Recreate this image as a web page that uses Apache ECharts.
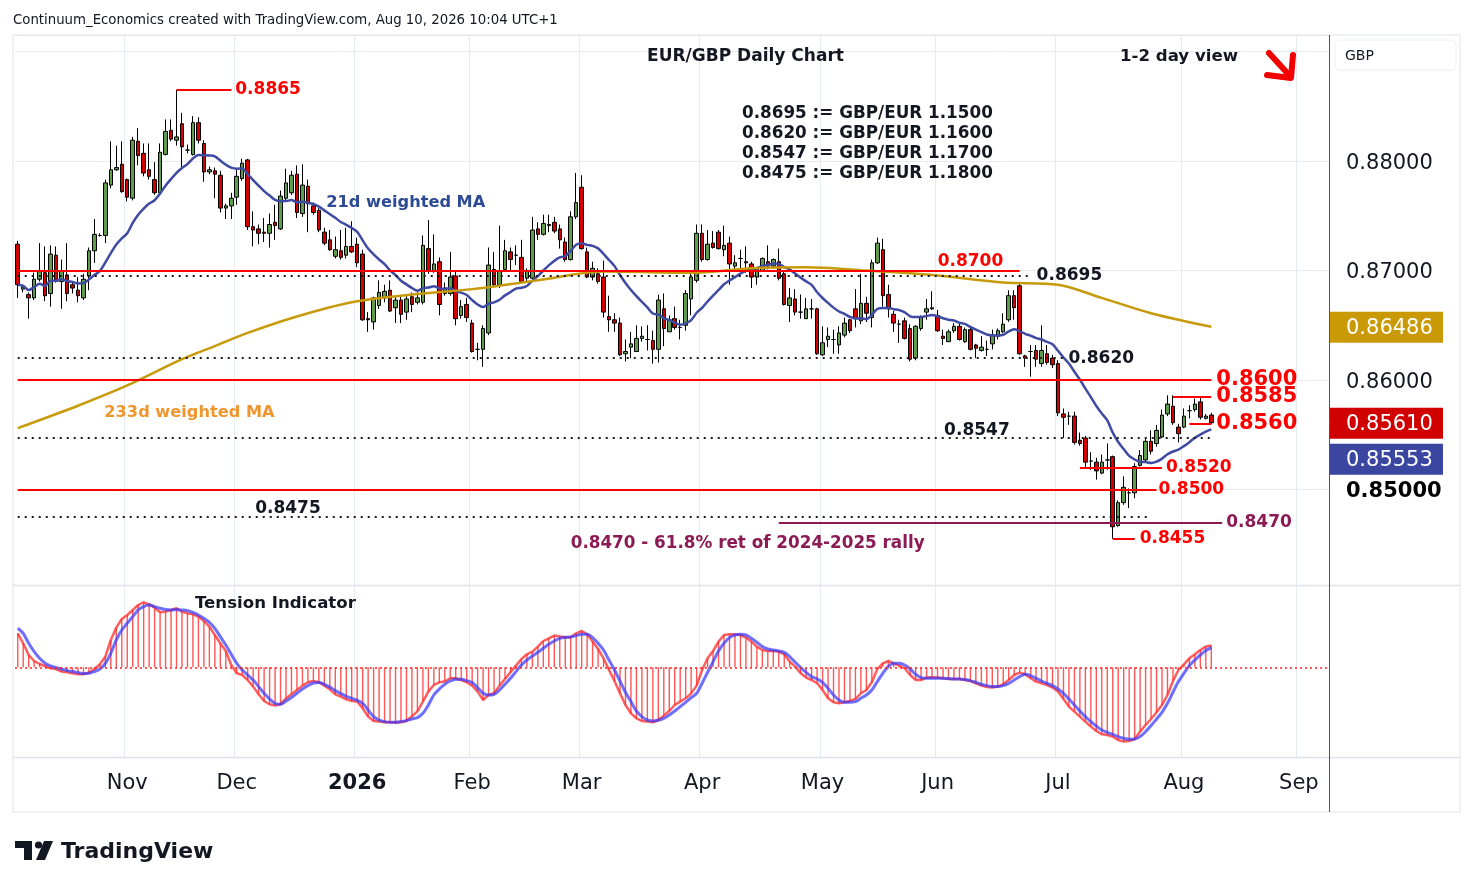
<!DOCTYPE html>
<html><head><meta charset="utf-8">
<script src="https://cdn.jsdelivr.net/npm/echarts/dist/echarts.min.js"></script>
<style>html,body{margin:0;padding:0;background:#fff;} #c{width:1474px;height:887px;}</style>
</head><body><div id="c"></div>
<script>
// ---- candles (Oct 6 2025 .. Aug 10 2026, daily) ----
const open = [0.8724,0.8683,0.8678,0.8675,0.8692,0.8698,0.8679,0.8714,0.8690,0.8696,
0.8687,0.8682,0.8675,0.8695,0.8718,0.8732,0.8732,0.8778,0.8792,0.8797,
0.8783,0.8766,0.8818,0.8807,0.8792,0.8783,0.8771,0.8806,0.8828,0.8819,
0.8834,0.8810,0.8806,0.8835,0.8816,0.8790,0.8791,0.8787,0.8757,0.8759,
0.8767,0.8784,0.8801,0.8740,0.8738,0.8735,0.8734,0.8744,0.8738,0.8766,
0.8771,0.8788,0.8752,0.8777,0.8759,0.8755,0.8735,0.8728,0.8713,0.8718,
0.8714,0.8722,0.8724,0.8715,0.8656,0.8653,0.8668,0.8675,0.8682,0.8666,
0.8673,0.8662,0.8676,0.8671,0.8671,0.8720,0.8699,0.8708,0.8679,0.8679,
0.8695,0.8659,0.8669,0.8652,0.8628,0.8628,0.8643,0.8701,0.8687,0.8701,
0.8717,0.8714,0.8712,0.8693,0.8693,0.8738,0.8733,0.8742,0.8744,0.8738,
0.8726,0.8710,0.8749,0.8776,0.8717,0.8694,0.8697,0.8694,0.8658,0.8655,
0.8652,0.8624,0.8630,0.8626,0.8638,0.8637,0.8636,0.8628,0.8665,0.8644,
0.8656,0.8648,0.8650,0.8674,0.8691,0.8734,0.8710,0.8725,0.8735,0.8719,
0.8725,0.8704,0.8711,0.8708,0.8706,0.8694,0.8700,0.8708,0.8704,0.8708,
0.8697,0.8668,0.8674,0.8662,0.8656,0.8665,0.8665,0.8623,0.8637,0.8637,
0.8632,0.8641,0.8655,0.8665,0.8654,0.8670,0.8657,0.8707,0.8719,0.8678,
0.8660,0.8651,0.8654,0.8647,0.8620,0.8647,0.8662,0.8665,0.8659,0.8640,
0.8635,0.8645,0.8649,0.8635,0.8646,0.8632,0.8627,0.8628,0.8633,0.8640,
0.8644,0.8655,0.8677,0.8686,0.8622,0.8626,0.8627,0.8615,0.8624,0.8620,
0.8615,0.8569,0.8567,0.8567,0.8545,0.8547,0.8526,0.8525,0.8515,0.8527,
0.8530,0.8467,0.8488,0.8497,0.8497,0.8522,0.8527,0.8544,0.8542,0.8548,
0.8569,0.8576,0.8557,0.8557,0.8572,0.8573,0.8580,0.8565,0.8568];
const close = [0.8687,0.8685,0.8675,0.8692,0.8699,0.8677,0.8715,0.8690,0.8700,0.8679,
0.8684,0.8677,0.8692,0.8718,0.8733,0.8732,0.8780,0.8792,0.8794,0.8772,
0.8767,0.8819,0.8805,0.8789,0.8786,0.8771,0.8808,0.8827,0.8820,0.8822,
0.8813,0.8810,0.8835,0.8819,0.8790,0.8792,0.8788,0.8757,0.8759,0.8766,
0.8786,0.8798,0.8740,0.8737,0.8734,0.8734,0.8742,0.8741,0.8768,0.8780,
0.8787,0.8753,0.8778,0.8761,0.8753,0.8737,0.8725,0.8719,0.8719,0.8712,
0.8722,0.8717,0.8707,0.8655,0.8655,0.8675,0.8680,0.8681,0.8663,0.8673,
0.8660,0.8674,0.8669,0.8675,0.8723,0.8700,0.8706,0.8669,0.8684,0.8694,
0.8656,0.8667,0.8657,0.8626,0.8628,0.8647,0.8705,0.8687,0.8700,0.8718,
0.8710,0.8714,0.8690,0.8700,0.8737,0.8733,0.8743,0.8741,0.8736,0.8728,
0.8710,0.8749,0.8762,0.8720,0.8694,0.8702,0.8690,0.8662,0.8655,0.8652,
0.8623,0.8626,0.8633,0.8638,0.8640,0.8637,0.8628,0.8673,0.8647,0.8655,
0.8648,0.8648,0.8679,0.8694,0.8734,0.8710,0.8724,0.8721,0.8720,0.8723,
0.8706,0.8707,0.8711,0.8707,0.8694,0.8702,0.8711,0.8704,0.8710,0.8693,
0.8669,0.8675,0.8662,0.8662,0.8665,0.8665,0.8624,0.8634,0.8640,0.8637,
0.8643,0.8652,0.8645,0.8656,0.8670,0.8661,0.8707,0.8725,0.8677,0.8665,
0.8652,0.8651,0.8638,0.8619,0.8649,0.8657,0.8665,0.8666,0.8645,0.8638,
0.8644,0.8649,0.8637,0.8646,0.8628,0.8629,0.8630,0.8628,0.8641,0.8645,
0.8651,0.8677,0.8666,0.8624,0.8620,0.8626,0.8619,0.8627,0.8616,0.8614,
0.8570,0.8566,0.8567,0.8543,0.8542,0.8525,0.8526,0.8517,0.8525,0.8527,
0.8466,0.8488,0.8502,0.8497,0.8521,0.8531,0.8544,0.8535,0.8554,0.8568,
0.8578,0.8561,0.8551,0.8567,0.8572,0.8578,0.8566,0.8567,0.8561];
const high = [0.8727,0.8687,0.8680,0.8698,0.8725,0.8722,0.8723,0.8722,0.8710,0.8725,
0.8689,0.8694,0.8697,0.8721,0.8747,0.8734,0.8783,0.8818,0.8814,0.8818,
0.8784,0.8822,0.8830,0.8816,0.8816,0.8799,0.8816,0.8838,0.8838,0.8865,
0.8844,0.8815,0.8841,0.8840,0.8819,0.8795,0.8794,0.8791,0.8761,0.8771,
0.8793,0.8802,0.8802,0.8754,0.8742,0.8748,0.8752,0.8760,0.8773,0.8793,
0.8791,0.8796,0.8797,0.8783,0.8762,0.8757,0.8739,0.8737,0.8731,0.8737,
0.8739,0.8745,0.8730,0.8719,0.8662,0.8676,0.8691,0.8687,0.8691,0.8677,
0.8677,0.8678,0.8680,0.8680,0.8732,0.8746,0.8733,0.8712,0.8689,0.8717,
0.8700,0.8673,0.8675,0.8655,0.8634,0.8650,0.8721,0.8717,0.8741,0.8728,
0.8721,0.8723,0.8728,0.8702,0.8749,0.8744,0.8751,0.8751,0.8749,0.8742,
0.8730,0.8754,0.8789,0.8787,0.8721,0.8708,0.8702,0.8709,0.8677,0.8661,
0.8657,0.8637,0.8644,0.8650,0.8649,0.8650,0.8645,0.8678,0.8679,0.8659,
0.8667,0.8655,0.8682,0.8699,0.8742,0.8742,0.8737,0.8736,0.8737,0.8741,
0.8731,0.8714,0.8719,0.8722,0.8708,0.8703,0.8712,0.8723,0.8711,0.8720,
0.8700,0.8684,0.8683,0.8678,0.8675,0.8674,0.8666,0.8649,0.8648,0.8646,
0.8649,0.8657,0.8656,0.8683,0.8697,0.8676,0.8710,0.8730,0.8729,0.8687,
0.8663,0.8655,0.8657,0.8651,0.8650,0.8659,0.8674,0.8681,0.8664,0.8646,
0.8646,0.8652,0.8653,0.8648,0.8648,0.8633,0.8640,0.8636,0.8646,0.8647,
0.8661,0.8682,0.8682,0.8688,0.8623,0.8632,0.8632,0.8650,0.8632,0.8623,
0.8618,0.8574,0.8571,0.8571,0.8552,0.8549,0.8534,0.8529,0.8532,0.8542,
0.8531,0.8490,0.8512,0.8501,0.8524,0.8536,0.8547,0.8554,0.8559,0.8573,
0.8586,0.8586,0.8560,0.8574,0.8577,0.8583,0.8584,0.8569,0.8570];
const low = [0.8675,0.8680,0.8656,0.8673,0.8690,0.8672,0.8667,0.8689,0.8665,0.8672,
0.8679,0.8671,0.8673,0.8682,0.8707,0.8731,0.8725,0.8775,0.8791,0.8771,
0.8763,0.8764,0.8796,0.8786,0.8783,0.8769,0.8769,0.8805,0.8818,0.8814,
0.8793,0.8807,0.8805,0.8816,0.8781,0.8788,0.8766,0.8753,0.8747,0.8747,
0.8760,0.8782,0.8737,0.8722,0.8724,0.8726,0.8721,0.8728,0.8737,0.8764,
0.8769,0.8748,0.8749,0.8735,0.8751,0.8735,0.8723,0.8718,0.8711,0.8710,
0.8711,0.8716,0.8703,0.8654,0.8644,0.8646,0.8665,0.8671,0.8662,0.8652,
0.8652,0.8655,0.8662,0.8669,0.8669,0.8697,0.8698,0.8659,0.8677,0.8677,
0.8650,0.8656,0.8653,0.8625,0.8618,0.8612,0.8641,0.8685,0.8684,0.8699,
0.8700,0.8705,0.8689,0.8689,0.8691,0.8728,0.8732,0.8735,0.8734,0.8720,
0.8708,0.8709,0.8747,0.8719,0.8693,0.8691,0.8688,0.8657,0.8644,0.8644,
0.8622,0.8617,0.8620,0.8626,0.8635,0.8627,0.8615,0.8616,0.8631,0.8644,
0.8646,0.8637,0.8645,0.8659,0.8689,0.8708,0.8709,0.8720,0.8719,0.8713,
0.8687,0.8699,0.8702,0.8698,0.8684,0.8687,0.8699,0.8701,0.8702,0.8691,
0.8668,0.8653,0.8659,0.8656,0.8656,0.8656,0.8623,0.8622,0.8630,0.8624,
0.8624,0.8639,0.8643,0.8648,0.8651,0.8653,0.8648,0.8706,0.8667,0.8657,
0.8644,0.8634,0.8637,0.8617,0.8618,0.8645,0.8655,0.8664,0.8644,0.8632,
0.8635,0.8643,0.8636,0.8634,0.8627,0.8620,0.8626,0.8622,0.8628,0.8637,
0.8643,0.8653,0.8655,0.8623,0.8612,0.8603,0.8612,0.8612,0.8614,0.8611,
0.8567,0.8547,0.8559,0.8541,0.8540,0.8519,0.8518,0.8509,0.8514,0.8518,
0.8455,0.8466,0.8486,0.8483,0.8492,0.8521,0.8525,0.8532,0.8539,0.8547,
0.8567,0.8559,0.8543,0.8556,0.8565,0.8571,0.8564,0.8564,0.8560];

// ---- 233d weighted MA readings (bar number -> value) ----
const ma233Bars = [1,12,21,31,37,43,52,62,73,84,96,108,125,135,145,156,168,181,191,199,208,219];
const ma233Vals = [0.8556,0.85765,0.8595,0.8619,0.8631,0.8643,0.8658,0.8671,0.8678,0.8683,0.8691,0.8699,0.8698,0.8702,0.8703,0.8700,0.8696,0.8689,0.8687,0.8675,0.8661,0.86486];
// last 21d weighted MA value shown on the price scale
const ma21LastRead = 0.85553;

// ---- Tension indicator (arbitrary units) ----
const tension = [34,24,12.3,6.3,3.3,1.3,-1,-1.7,-4.3,-5,
-6,-7,-7,-5.3,-1.7,3,10.7,27.3,39.7,48.3,
52.3,57.3,62.3,65,63,59.7,55,55.7,57.3,59,
55.7,54,53,50.7,46.3,40.7,32.3,24,16.3,2.3,
-6,-7.7,-12.7,-19.3,-27,-33.7,-37,-38.3,-37,-31,
-27,-22.7,-18.3,-15,-13.7,-15,-18.3,-22,-27,-29.3,
-32,-33.7,-34.3,-41,-49.3,-53.7,-54.3,-55,-55,-55.3,
-55,-53.7,-49,-44,-34.3,-24.3,-17.7,-15,-14.3,-11,
-11,-12.7,-15,-18.3,-24.3,-32.7,-27.7,-26,-18.3,-11.7,
-5,1.7,8.3,13,15.7,20.7,26.3,29,31.7,30.7,
30,30,34,36.3,33,25.7,18.3,9,-2.7,-13.7,
-26,-37.7,-46,-51,-53.7,-54.3,-55,-52.7,-48.3,-43.7,
-37.7,-34.3,-31,-26,-18.3,-2.7,9,16.3,25.7,32.3,
33,33,32.3,29.7,25.7,20.7,17.3,16.3,16.3,15.7,
13,5.7,0.7,-6,-10.3,-12.7,-16,-22.7,-31,-35,
-36,-35,-33.7,-31.7,-26,-22.7,-15,-1.7,4,6.3,
4,1.7,-1,-7.7,-12.7,-12.7,-10.3,-10,-10.3,-11,
-11.7,-11.7,-11.7,-12.7,-13.7,-16,-18.3,-19.7,-20.3,-19.3,
-17,-12.7,-7.7,-5.3,-7,-11,-14.3,-16,-17.7,-20.3,
-24.3,-31.7,-39.3,-44.3,-49.3,-54.3,-59.3,-63.7,-67,-67.7,
-69.3,-72.7,-74.3,-73.7,-71.7,-64.3,-57.7,-51.7,-45,-37.7,
-27.7,-13.7,-2.7,3,9,13,17.3,20.7,21.7];
const signal = [39,34,24,15.7,9,4,1.3,-0.3,-1.7,-3.3,
-4.3,-5.3,-6.3,-6,-4.3,-1.7,4,14,27.3,37.3,
44,50.7,57.3,60.7,62.3,60.7,59,57.7,57.3,57.7,
57.3,56.7,55,52.3,49,45,39,30.7,22.3,13,
4,-2.7,-7.7,-12.7,-19.3,-26,-31.7,-36,-37,-33.7,
-30.3,-26,-21.7,-18.3,-15.7,-15.3,-17,-19.7,-23.3,-26.3,
-29,-31,-33,-36,-42.7,-49.3,-52.7,-54.3,-55,-55,
-54.3,-53.3,-51.7,-50.3,-46,-37.7,-27.7,-21.7,-17,-13.7,
-12,-12,-13.3,-15.3,-20.3,-26,-27.7,-27,-22.7,-17,
-11,-4.3,2.3,7.3,11.3,15,19,23,26.3,29,
30,30.3,31.7,33,33,29.7,24,17.3,7.3,-2.7,
-13.7,-25,-34.3,-43.7,-49.3,-52.7,-53.7,-53,-51,-47.7,
-43.7,-39.3,-35,-30.3,-26,-16,-5,5.7,16.3,24,
29.7,32.3,33,32.3,29,25,20.7,18.3,17.3,16.3,
15,10.7,5,-0.3,-5,-9.3,-11.7,-15,-21,-27.7,
-32.7,-35,-35,-34.3,-31,-27.7,-22.7,-14.3,-6,0.7,
4,4,2.3,-1.7,-7,-10.3,-11,-11,-11,-11,
-11.3,-11.7,-11.7,-12.3,-13.3,-15,-17,-18.3,-19.3,-19.3,
-18.3,-16,-12.7,-9.3,-7,-8.3,-11,-13.7,-16,-18.3,
-21.7,-26,-31.7,-37.7,-43.7,-49.3,-54.3,-58.7,-62.7,-65,
-67,-69.3,-71,-72,-71.7,-69.3,-64.3,-58.3,-51.7,-45,
-36,-25,-14.3,-6,1.7,7.3,12.3,16.7,19.7];

// ---- price axis ticks / labels ----
const priceTicks = [0.85, 0.86, 0.87, 0.88];
const monthNames = ['Jan','Feb','Mar','Apr','May','Jun','Jul','Aug','Sep','Oct','Nov','Dec'];

// category axis: trading weekdays (Dec 25 and Jan 1 closed), incl. future space
const dates = [];
(function(){
  const d = new Date(Date.UTC(2025,9,6)), end = new Date(Date.UTC(2026,8,8));
  const skip = ['2025-12-25','2026-01-01'];
  while (d <= end) {
    const wd = d.getUTCDay(), s = d.toISOString().slice(0,10);
    if (wd !== 0 && wd !== 6 && skip.indexOf(s) < 0) dates.push(s);
    d.setUTCDate(d.getUTCDate()+1);
  }
})();
const monthStart = {};
for (let i = 1; i < dates.length; i++) if (dates[i].slice(5,7) !== dates[i-1].slice(5,7)) monthStart[i] = true;

function wma(vals, n){
  return vals.map((_, t) => { let s = 0, w = 0;
    for (let k = 0; k < n && t - k >= 0; k++) { const wt = n - k; s += wt * vals[t-k]; w += wt; }
    return +(s / w).toFixed(5); });
}
const ma21 = wma(close, 21);
const ma233 = dates.map(() => null);
ma233Bars.forEach((b, j) => { ma233[b-1] = ma233Vals[j]; });

const candleData = open.map((o, i) => [o, close[i], low[i], high[i]]);

const FONT = 'DejaVu Sans';
const RED = '#ff0000', PURPLE = '#8b1a55';
const dotted = {color:'#1a1a1a', width:2, type:[2,5]};
const solidRed = {color:RED, width:2, type:'solid'};
function lvl(v, i1, i2, style, text, lab){
  return [{coord:[i1, v], lineStyle:style, label: Object.assign({show: !!text, formatter: text || '', position:'end', distance:5,
            padding:[4,0,0,0],
            fontFamily:FONT, fontWeight:'bold', fontSize:17, color: style.color === '#1a1a1a' ? '#131722' : style.color}, lab || {})},
          {coord:[i2, v]}];
}
function txt(i, v, text, color, align, off, size){
  return {coord:[i, v], symbol:'circle', symbolSize:0.01, itemStyle:{color:'transparent'},
    label:{show:true, formatter:text, position:'inside', align:align, verticalAlign:'middle', offset:off,
      color:color, fontFamily:FONT, fontWeight:'bold', fontSize:size || 17}};
}

const splitInterval = (idx) => !!monthStart[idx];

const option = {
  animation:false,
  backgroundColor:'#ffffff',
  grid:[{left:15, width:1314, top:35, height:550}, {left:15, width:1314, top:586, height:171}],
  xAxis:[
    {type:'category', gridIndex:0, data:dates, boundaryGap:true, axisLine:{show:false}, axisTick:{show:false}, axisLabel:{show:false},
     splitLine:{show:true, interval:splitInterval, lineStyle:{color:'#e6eaf1', width:1}}},
    {type:'category', gridIndex:1, data:dates, boundaryGap:true, axisLine:{show:false}, axisTick:{show:false},
     splitLine:{show:true, interval:splitInterval, lineStyle:{color:'#e6eaf1', width:1}},
     axisLabel:{show:true, interval:splitInterval, margin:16, fontFamily:FONT, fontSize:21, color:'#131722',
       formatter:(v) => { const m = +v.slice(5,7); return m === 1 ? '{b|' + v.slice(0,4) + '}' : monthNames[m-1]; },
       rich:{b:{fontFamily:FONT, fontSize:21, fontWeight:'bold', color:'#131722'}}}}
  ],
  yAxis:[
    {type:'value', gridIndex:0, position:'right', min:0.841279, max:0.891507, splitNumber:5,
     axisLine:{show:false}, axisTick:{show:false},
     splitLine:{show:true, lineStyle:{color:'#e6eaf1', width:1}},
     axisLabel:{show:true, margin:17, padding:[5,0,0,0], showMinLabel:false, showMaxLabel:false, fontFamily:FONT, fontSize:21, color:'#131722',
       formatter:(v) => { if (v > 0.885) return ''; const s = v.toFixed(5); return Math.abs(v - priceTicks[0]) < 1e-6 ? '{b|' + s + '}' : s; },
       rich:{b:{fontFamily:FONT, fontSize:21, fontWeight:'bold', color:'#000'}}}},
    {type:'value', gridIndex:1, min:-89.7, max:81.3, show:false, splitLine:{show:false}}
  ],
  series:[
    {type:'candlestick', name:'EURGBP', xAxisIndex:0, yAxisIndex:0, data:candleData, barWidth:4,
     itemStyle:{color:'#5e9e4b', color0:'#d40000', borderColor:'#000', borderColor0:'#000', borderWidth:1},
     markLine:{silent:true, symbol:['none','none'], animation:false, data:[
       lvl(0.8865, 29, 39, solidRed, '0.8865', {distance:4}),
       lvl(0.8700, 0, 183, solidRed, ''),
       lvl(0.8695, 0, 185, dotted, '0.8695', {distance:6}),
       lvl(0.8620, 0, 191, dotted, '0.8620', {distance:5}),
       lvl(0.8600, 0, 218, solidRed, '0.8600', {fontSize:21, distance:5}),
       lvl(0.8585, 211, 218, solidRed, '0.8585', {fontSize:21, distance:5}),
       lvl(0.8560, 214, 218, solidRed, '0.8560', {fontSize:21, distance:5}),
       lvl(0.8547, 0, 218, dotted, ''),
       lvl(0.8520, 194, 209, solidRed, '0.8520', {distance:4}),
       lvl(0.8500, 0, 208, solidRed, '0.8500', {distance:2}),
       lvl(0.8475, 0, 207, dotted, ''),
       lvl(0.8470, 139, 220, {color:PURPLE, width:2, type:'solid'}, '0.8470', {distance:4}),
       lvl(0.8455, 200, 204, solidRed, '0.8455', {distance:5})
     ]},
     markPoint:{silent:true, animation:false, data:[
       txt(180, 0.8700, '0.8700', RED, 'right', [0,-9]),
       txt(181, 0.8547, '0.8547', '#131722', 'right', [1,-7]),
       txt(43, 0.8475, '0.8475', '#131722', 'left', [2,-8]),
       txt(101, 0.8470, '0.8470 - 61.8% ret of 2024-2025 rally', PURPLE, 'left', [0,21], 16.8),
       txt(56, 0.8764, '21d weighted MA', '#2d4a94', 'left', [2,2], 16.2),
       txt(16, 0.85717, '233d weighted MA', '#f0962e', 'left', [-1,2], 16.2)
     ]},
     z:3},
    {type:'line', name:'21d WMA', xAxisIndex:0, yAxisIndex:0, data:ma21, symbol:'none', smooth:0.3,
     lineStyle:{color:'#3f4aa2', width:2.5}, z:4},
    {type:'line', name:'233d WMA', xAxisIndex:0, yAxisIndex:0, data:ma233, symbol:'none', smooth:0.3, connectNulls:true,
     lineStyle:{color:'#c79a0a', width:2.5}, z:4},
    {type:'bar', name:'TI hist', xAxisIndex:1, yAxisIndex:1, data:tension, barWidth:1.4,
     itemStyle:{color:'rgba(255,30,30,0.75)'},
     markLine:{silent:true, symbol:['none','none'], label:{show:false}, lineStyle:{color:'#ff2020', type:[2,3], width:1.5},
       data:[{yAxis:0}]}},
    {type:'line', name:'Tension', xAxisIndex:1, yAxisIndex:1, data:tension, symbol:'none',
     lineStyle:{color:'rgba(255,40,40,0.75)', width:2.5}},
    {type:'line', name:'Signal', xAxisIndex:1, yAxisIndex:1, data:signal, symbol:'none', smooth:0.3,
     lineStyle:{color:'rgba(55,55,255,0.72)', width:3}}
  ]
};

const chart = echarts.init(document.getElementById('c'), null, {renderer:'canvas'});
chart.setOption(option);

// overlay: frame, texts, last-value boxes (positions from the library's own scale)
const yOf = (v) => chart.convertToPixel({yAxisIndex:0}, v);
const lastClose = close[close.length-1], last233 = ma233Vals[ma233Vals.length-1];
const yRed = yOf(lastClose), yGold = yOf(last233);
let yBlue = yOf(ma21LastRead); if (yBlue < yRed + 36) yBlue = yRed + 36;
function box(yc, fill, value){
  return [{type:'rect', shape:{x:1330, y:yc-15, width:113, height:31}, style:{fill:fill}, z:50},
          {type:'text', x:1346, y:yc+2, style:{text:value.toFixed(5), fill:'#fff', font:'21px "DejaVu Sans"', textVerticalAlign:'middle'}, z:51}];
}
const G = '#e0e3eb';
const graphics = [
  {type:'line', shape:{x1:13, y1:35, x2:1460, y2:35}, style:{stroke:G, lineWidth:1}, z:40},
  {type:'line', shape:{x1:13, y1:35, x2:13, y2:812}, style:{stroke:G, lineWidth:1}, z:40},
  {type:'line', shape:{x1:1460, y1:35, x2:1460, y2:812}, style:{stroke:G, lineWidth:1}, z:40},
  {type:'line', shape:{x1:13, y1:812, x2:1460, y2:812}, style:{stroke:G, lineWidth:1}, z:40},
  {type:'line', shape:{x1:13, y1:585.5, x2:1460, y2:585.5}, style:{stroke:G, lineWidth:1.5}, z:40},
  {type:'line', shape:{x1:13, y1:757.5, x2:1460, y2:757.5}, style:{stroke:G, lineWidth:1.5}, z:40},
  {type:'line', shape:{x1:1329.5, y1:35, x2:1329.5, y2:812}, style:{stroke:'#50535e', lineWidth:1}, z:40},
  {type:'text', x:13, y:21, style:{text:'Continuum_Economics created with TradingView.com, Aug 10, 2026 10:04 UTC+1', fill:'#131722', font:'13.3px "DejaVu Sans"', textVerticalAlign:'middle'}, z:60},
  {type:'text', x:745.5, y:57, style:{text:'EUR/GBP Daily Chart', fill:'#131722', font:'bold 17px "DejaVu Sans"', textAlign:'center', textVerticalAlign:'middle'}, z:60},
  {type:'text', x:1120, y:57, style:{text:'1-2 day view', fill:'#131722', font:'bold 16.6px "DejaVu Sans"', textVerticalAlign:'middle'}, z:60},
  {type:'text', x:742, y:104, style:{text:'0.8695 := GBP/EUR 1.1500\n0.8620 := GBP/EUR 1.1600\n0.8547 := GBP/EUR 1.1700\n0.8475 := GBP/EUR 1.1800', fill:'#131722', font:'bold 16.8px "DejaVu Sans"', lineHeight:20}, z:60},
  {type:'text', x:195, y:604, style:{text:'Tension Indicator', fill:'#131722', font:'bold 16.6px "DejaVu Sans"', textVerticalAlign:'middle'}, z:60},
  // red arrow
  {type:'line', shape:{x1:1269, y1:53, x2:1290, y2:76}, style:{stroke:'#f20000', lineWidth:6, lineCap:'round'}, z:60},
  {type:'polyline', shape:{points:[[1267,75],[1291,78],[1293,55]]}, style:{stroke:'#f20000', lineWidth:6, lineJoin:'round', lineCap:'round', fill:null}, z:60},
  // GBP box
  {type:'rect', shape:{x:1335, y:40, width:121, height:30, r:5}, style:{fill:'#fff', stroke:'#eceef2', lineWidth:1}, z:60},
  {type:'text', x:1345, y:56, style:{text:'GBP', fill:'#131722', font:'14px "DejaVu Sans"', textVerticalAlign:'middle'}, z:61},
  // TradingView logo
  {type:'polygon', shape:{points:[[15,841],[32,841],[32,860],[24,860],[24,848],[15,848]]}, style:{fill:'#131722'}, z:60},
  {type:'circle', shape:{cx:38.5, cy:845, r:3.6}, style:{fill:'#131722'}, z:60},
  {type:'polygon', shape:{points:[[44,841],[53,841],[45,860],[36,860]]}, style:{fill:'#131722'}, z:60},
  {type:'text', x:61, y:852, style:{text:'TradingView', fill:'#131722', font:'bold 22px "DejaVu Sans"', textVerticalAlign:'middle'}, z:60}
].concat(box(yGold, '#c99a06', last233), box(yRed, '#d10000', lastClose), box(yBlue, '#3b46a1', ma21LastRead));
chart.setOption({graphic:graphics});
</script>
</body></html>
